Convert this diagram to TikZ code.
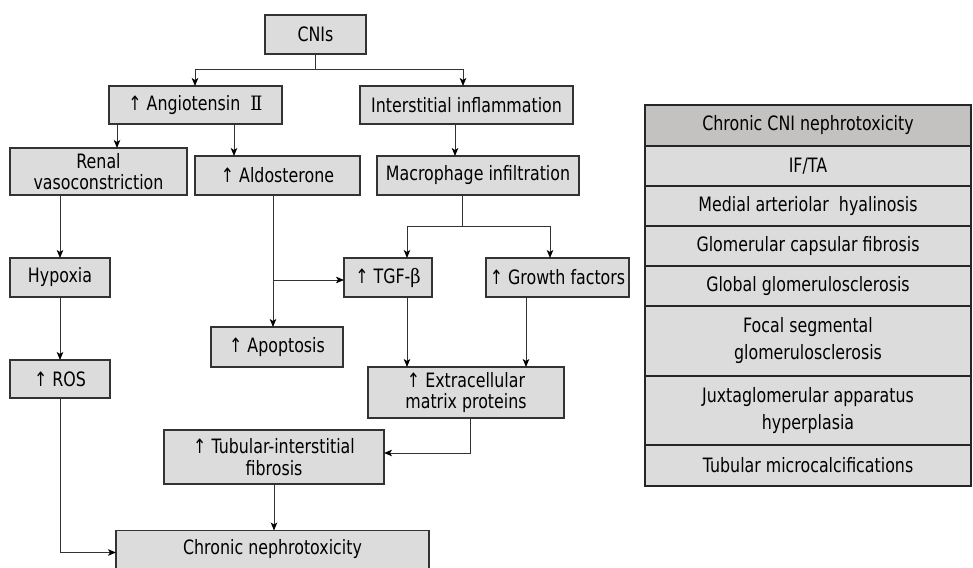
\documentclass[tikz,border=0pt]{standalone}
\usepackage{fontspec}
\setmainfont{DejaVu Sans}[FakeStretch=0.8]
\newfontfamily\grk{DejaVu Serif}[FakeStretch=0.9]
\usetikzlibrary{arrows.meta}
\definecolor{boxfill}{HTML}{DCDCDC}
\definecolor{headfill}{HTML}{C4C1C1}
\definecolor{edge}{HTML}{333333}

\begin{document}
\begin{tikzpicture}[x=1pt,y=-1pt,
	box/.style={draw=edge,line width=1.3pt,fill=boxfill,inner sep=0pt,outer sep=0pt,
		align=center,font=\fontsize{19.8}{21.7}\selectfont},
	ln/.style={draw=edge,line width=1pt},
	arr/.style={ln,-{Stealth[length=8pt,width=6.5pt,inset=2pt,color=black]}},
	cell/.style={draw=black!85,line width=1.4pt},
	celltext/.style={inner sep=0pt,align=center,font=\fontsize{19.8}{27}\selectfont}]

	\useasboundingbox (0,0) rectangle (973,567);

	% flow chart
	\node[box,minimum width=101,minimum height=39] (cni) at (315.5,34.5) {CNIs};
	\node[box,minimum width=173,minimum height=38] (angio) at (195.5,105) {↑ Angiotensin\ \ {\grk Ⅱ}};
	\node[box,minimum width=213,minimum height=38] (infl) at (466.5,105) {Interstitial inflammation};
	\node[box,minimum width=177,minimum height=47] (renal) at (98.5,171.5) {Renal\\vasoconstriction};
	\node[box,minimum width=165,minimum height=39] (aldo) at (277.5,175.5) {↑ Aldosterone};
	\node[box,minimum width=202,minimum height=39] (macro) at (478,175.5) {Macrophage infiltration};
	\node[box,minimum width=100,minimum height=39] (hypoxia) at (60,277.5) {Hypoxia};
	\node[box,minimum width=88,minimum height=39] (tgf) at (388,277.5) {↑ TGF-{\grk β}};
	\node[box,minimum width=143,minimum height=39] (growth) at (557.5,277.5) {↑ Growth factors};
	\node[box,minimum width=132,minimum height=40] (apop) at (277,347) {↑ Apoptosis};
	\node[box,minimum width=100,minimum height=38] (ros) at (60,379) {↑ ROS};
	\node[box,minimum width=196,minimum height=51] (ecm) at (466,392.5) {↑ Extracellular\\matrix proteins};
	\node[box,minimum width=220,minimum height=54] (tub) at (274,457) {↑ Tubular-interstitial\\fibrosis};
	\node[box,minimum width=313,minimum height=38] (chronic) at (272.5,549.5) {Chronic nephrotoxicity};

	\coordinate (split) at (cni.south |- 0,70);
	\draw[ln] (cni.south) -- (split);
	\draw[arr] (split) -| ([xshift=-0.5pt]angio.north);
	\draw[arr] (split) -| ([xshift=-3.5pt]infl.north);

	\coordinate (a1) at ([xshift=8pt]angio.south west);
	\coordinate (a2) at ([xshift=-48pt]angio.south east);
	\draw[arr] (a1) -- (a1 |- renal.north);
	\draw[arr] (a2) -- (a2 |- aldo.north);
	\coordinate (i1) at ([xshift=-11.5pt]infl.south);
	\draw[arr] (i1) -- (i1 |- macro.north);

	\draw[arr] (renal.south -| hypoxia.north) -- (hypoxia.north);
	\draw[arr] (hypoxia) -- (ros);
	\draw[arr] (ros.south) |- ([yshift=-3pt]chronic.west);

	\coordinate (d1) at ([xshift=-4.5pt]aldo.south);
	\draw[arr] (d1) -- (d1 |- apop.north);
	\draw[arr] (d1 |- 0,280) -- (tgf.west |- 0,280);

	\coordinate (m1) at ([xshift=-16pt]macro.south);
	\coordinate (msplit) at (m1 |- 0,226);
	\draw[ln] (m1) -- (msplit);
	\coordinate (t1) at ([xshift=-25pt]tgf.north east);
	\coordinate (g1) at ([xshift=-7.5pt]growth.north);
	\draw[arr] (msplit) -| (t1);
	\draw[arr] (msplit) -| (g1);
	\draw[arr] (t1 |- tgf.south) -- (t1 |- ecm.north);
	\coordinate (g2) at ([xshift=-31.5pt]growth.south);
	\draw[arr] (g2) -- (g2 |- ecm.north);

	\coordinate (e1) at ([xshift=4pt]ecm.south);
	\draw[arr] (e1) |- ([yshift=4pt]tub.east);
	\draw[arr] (tub.south) -- (tub.south |- chronic.north);

	% table
	\fill[headfill] (645,105) rectangle (971,146);
	\node[celltext] (head) at (808,125.5) {Chronic CNI nephrotoxicity};
	\foreach \top/\bot/\txt [count=\i] in {146/186/{IF/TA},
		186/226/{Medial arteriolar\ \ hyalinosis},
		226/266/{Glomerular capsular fibrosis},
		266/306/{Global glomerulosclerosis},
		306/376/{Focal segmental\\glomerulosclerosis},
		376/445/{Juxtaglomerular apparatus\\hyperplasia},
		445/486/{Tubular microcalcifications}}{
		\fill[boxfill] (645,\top) rectangle (971,\bot);
		\node[celltext] (row\i) at (808,{(\top+\bot)/2}) {\txt};
		\draw[cell] (645,\top) -- (971,\top);
	}
	\draw[cell] (645,105) rectangle (971,486);

\end{tikzpicture}
\end{document}
